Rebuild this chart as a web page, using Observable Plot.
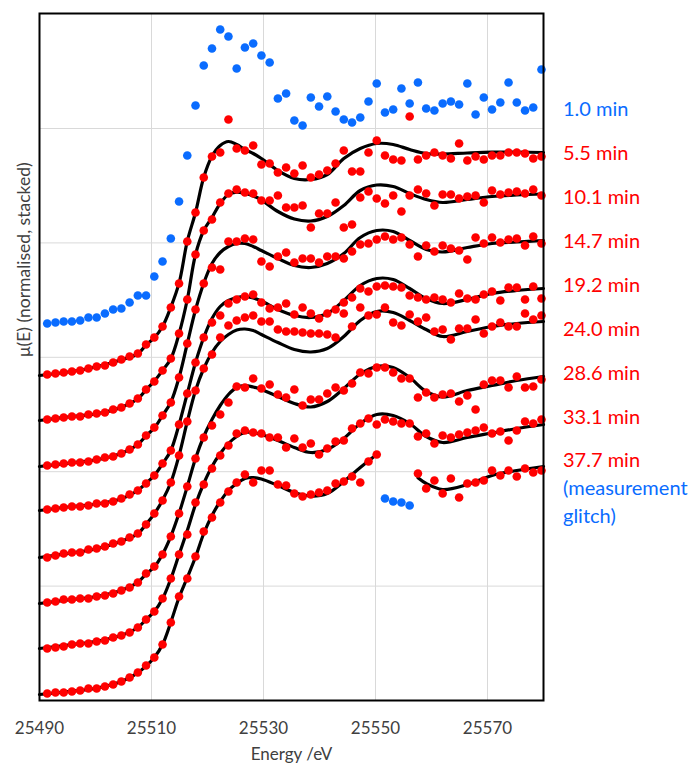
<!DOCTYPE html>
<html><head><meta charset="utf-8">
<script src="https://cdn.jsdelivr.net/npm/d3@7"></script>
<script src="https://cdn.jsdelivr.net/npm/@observablehq/plot@0.6"></script>
<style>
body{margin:0;background:#fff;}
#wrap{position:relative;width:700px;height:767px;font-family:Lato,"Open Sans",sans-serif;}
.lab{position:absolute;left:563px;font-size:20px;white-space:nowrap;line-height:28px;}
</style></head><body><div id="wrap"></div>
<script>
// Energies of the measured points (eV)
const energy = [25491.38,25492.85,25494.32,25495.79,25497.26,25498.74,25500.21,25501.68,25503.15,25504.62,25506.09,25507.56,25509.03,25510.50,25511.97,25513.45,25514.92,25516.39,25517.86,25519.33,25520.80,25522.27,25523.74,25525.21,25526.68,25528.16,25529.63,25531.10,25532.57,25534.04,25535.51,25536.98,25538.45,25539.92,25541.39,25542.87,25544.34,25545.81,25547.28,25548.75,25550.22,25551.69,25553.16,25554.63,25556.10,25557.58,25559.05,25560.52,25561.99,25563.46,25564.93,25566.40,25567.87,25569.34,25570.81,25572.29,25573.76,25575.23,25576.70,25578.17,25579.64];

// Stacked mu(E), arbitrary units (offset per spectrum)
const mu010 = [377,378,379,379,380,383,383,387,391,392,398,405,405,424,439,462,499,545,595,635,652,671,664,632,653,657,645,638,602,607,580,575,603,594,604,589,581,578,583,599,617,588,591,612,597,618,592,590,597,599,596,617,586,603,591,598,618,598,590,593,631];
const mu055 = [326,327,328,329,330,332,334,335,338,341,344,347,356,363,374,393,417,459,488,523,544,548,581,552,550,555,536,537,528,533,527,535,523,526,530,537,550,529,529,548,560,545,541,540,584,541,545,548,545,542,557,540,544,541,545,545,548,548,547,542,544];
const mu101 = [281,282,283,284,284,286,287,288,291,293,297,302,311,319,330,342,367,401,446,470,481,498,507,511,508,507,500,500,505,493,493,495,473,487,487,498,473,476,503,509,502,497,505,489,505,511,507,495,506,506,502,504,505,498,510,506,508,509,507,511,505];
const mu147 = [235,236,237,238,238,239,241,243,244,247,251,256,265,273,285,298,323,357,391,417,433,431,459,459,462,461,439,434,444,448,438,442,442,438,444,444,442,449,456,457,461,464,461,463,456,444,455,449,455,452,450,441,463,457,463,458,461,462,455,464,457];
const mu192 = [191,192,193,194,194,195,197,197,199,202,206,210,217,225,237,250,276,307,338,363,378,385,397,401,404,406,398,392,393,397,386,393,387,382,387,391,398,403,412,409,414,415,414,413,405,403,401,403,401,398,407,402,401,406,409,400,413,413,401,414,402];
const mu240 = [143,145,147,148,148,151,152,154,157,159,163,167,176,187,200,218,245,279,310,332,346,363,375,380,383,385,379,379,371,369,369,368,367,367,366,363,387,374,393,385,386,393,378,375,386,379,383,369,371,361,372,372,381,367,374,378,374,374,387,381,385];
const mu286 = [98,99,101,101,102,102,104,105,107,110,113,118,127,134,146,164,187,214,242,263,275,286,298,314,313,322,312,316,306,303,311,295,301,301,307,313,310,317,328,327,333,333,328,322,322,303,308,303,306,307,299,305,291,316,320,320,313,324,313,314,321];
const mu331 = [52,53,54,56,57,57,59,60,63,65,68,73,81,89,102,122,146,166,198,216,232,245,255,267,270,268,267,263,263,253,262,253,257,246,252,259,260,272,277,282,276,281,279,277,277,264,267,257,265,263,266,268,270,273,267,269,260,270,279,277,281];
const mu377 = [7,8,8,9,10,12,12,14,16,19,23,28,35,43,56,78,104,122,144,169,183,198,209,218,226,218,230,230,216,215,207,204,206,208,210,217,219,224,218,239,246,null,null,null,null,227,212,220,207,222,203,217,218,220,230,225,230,224,232,228,230];
// 37.7 min measurement glitch points
const glitchE = [25551.69,25553.16,25554.63,25556.10];
const glitchMu = [202,199,198,195];

// Fitted curves (linear-combination fits)
const fitE = [25490,25495.79,25500.21,25504.62,25507.56,25509.03,25510.50,25511.97,25513.45,25514.92,25516.39,25517.86,25519.33,25520.80,25522.27,25523.74,25525.21,25526.68,25528.16,25529.63,25532.57,25535.51,25538.45,25541.39,25544.34,25547.28,25550.22,25553.16,25556.10,25559.05,25561.99,25566.40,25570.81,25575.23,25580];
const fit055 = [325,329,333.7,340.7,346.7,355.7,362.7,374,393.3,417.3,459.3,488,523.3,544.3,555,559,556,551,547,542,530,522,521,526,542,552,557,556,551,547,546.5,547.5,548.3,548.5,548];
const fit101 = [280,284,286.7,293.3,301.7,310.7,319.3,330,341.7,366.7,401,446,470,483,497,506,508.3,507,504.5,500.5,489,481.5,479.5,484,495,510,515.5,514,507,501,498,501,504,505.5,506.5];
const fit147 = [234,237.7,240.7,247.3,256,264.7,272.5,285,298.3,323,357,390.7,417.3,437,448,454,457,457,454,450,442,435,433,437,447,463,470,469,460,451,448.5,453,457,458.5,460];
const fit192 = [190,194,196.5,201.7,210,217.3,225,236.7,250,276,307,338,363,382,394,400,403,404,402.5,399.5,391,385,383,387,400,415,422,421,412,402,397,401,407,410,412];
const fit240 = [143,147.7,151.7,159.3,166.7,176.3,186.7,200.3,218,245,279,310,332,348,359,366,370.5,371.5,370,366,358,351,348.5,352,364,380,389,388,380,371,364,369,374,377,379];
const fit286 = [97,101,104,110.3,118.2,126.5,133.5,146.3,164.2,187.2,214,242,264,281,295,306,313,315,313.5,311,304,297,293.5,299,312,326.5,334,333,323,309,303.5,310,315,320,324];
const fit331 = [52,56,59.3,65.3,73,81,89,101.7,121.7,146,170,196,217,234,247,257,264,268,268,266,260,253,248,251,262,277,286,285,277,264,258,263,267.5,272,276];
const fitE377 = [25490,25495.79,25500.21,25504.62,25507.56,25509.03,25510.50,25511.97,25513.45,25514.92,25516.39,25517.86,25519.33,25520.80,25522.27,25523.74,25525.21,25526.68,25528.16,25529.63,25532.57,25535.51,25538.45,25541.39,25544.34,25547.28,25550.22,25553.9,25557.58,25559.05,25561.99,25566.40,25570.81,25575.23,25580];
const fit377 = [6,9.3,12.3,19,27.7,34.5,43,56,78.3,103,123,143.5,167,185,199,210,217,222,223,221.5,215,208,204.5,207,219,233,246,null,222.7,217,211,216,225,230,234];

const labels = ["1.0 min","5.5 min","10.1 min","14.7 min","19.2 min","24.0 min","28.6 min","33.1 min","37.7 min"];
const xTicks = [25490,25510,25530,25550,25570];
const yGrid = [114.4,228.8,343.2,457.6,572.0];

const RED = "#ff0000", BLUE = "#0a6cff";

const redSets = [mu055,mu101,mu147,mu192,mu240,mu286,mu331,mu377];
const redRows = redSets.flatMap((arr,k)=>arr.map((v,i)=>({E:energy[i],v,s:k})).filter(d=>d.v!=null));
const blueRows = mu010.map((v,i)=>({E:energy[i],v})).concat(glitchE.map((e,i)=>({E:e,v:glitchMu[i]})));
const fits = [[fitE,fit055],[fitE,fit101],[fitE,fit147],[fitE,fit192],[fitE,fit240],[fitE,fit286],[fitE,fit331],[fitE377,fit377]];
const fitRows = fits.flatMap(([xs,ys],k)=>xs.map((e,i)=>({E:e,v:ys[i],s:k})));

const chart = Plot.plot({
  width:700, height:767,
  marginLeft:39, marginRight:157, marginTop:13, marginBottom:67,
  style:{fontFamily:"Lato, 'Open Sans', sans-serif", fontSize:"17px", color:"#404040", background:"white"},
  x:{domain:[25490,25580], ticks:xTicks, tickSize:0, tickPadding:21, tickFormat:d3.format("d"), label:null},
  y:{domain:[0,687], axis:null},
  marks:[
    Plot.ruleX(xTicks,{stroke:"#d9d9d9"}),
    Plot.ruleY(yGrid,{stroke:"#d9d9d9"}),
    Plot.line(fitRows,{x:"E",y:"v",z:"s",stroke:"black",strokeWidth:3.2,curve:"catmull-rom"}),
    Plot.dot(redRows,{x:"E",y:"v",r:4.3,fill:RED}),
    Plot.dot(blueRows,{x:"E",y:"v",r:4.3,fill:BLUE}),
    Plot.frame({stroke:"black",strokeWidth:2}),
    Plot.text(["Energy /eV"],{frameAnchor:"bottom",dy:59,fill:"#404040",fontSize:17}),
    Plot.text(["\u03bc(E) (normalised, stacked)"],{frameAnchor:"left",dx:-15,rotate:-90,fill:"#404040",fontSize:17.5})
  ]
});
const wrap = document.getElementById("wrap");
wrap.appendChild(chart);
labels.forEach((t,i)=>{
  const d = document.createElement("div");
  d.className = "lab";
  d.textContent = t;
  d.style.color = i===0 ? BLUE : RED;
  d.style.top = (i<8 ? 94 + i*44 : 445) + "px";
  wrap.appendChild(d);
});
["(measurement","glitch)"].forEach((t,i)=>{
  const d = document.createElement("div");
  d.className = "lab";
  d.textContent = t;
  d.style.color = BLUE;
  d.style.top = (473 + i*28) + "px";
  wrap.appendChild(d);
});
</script></body></html>
